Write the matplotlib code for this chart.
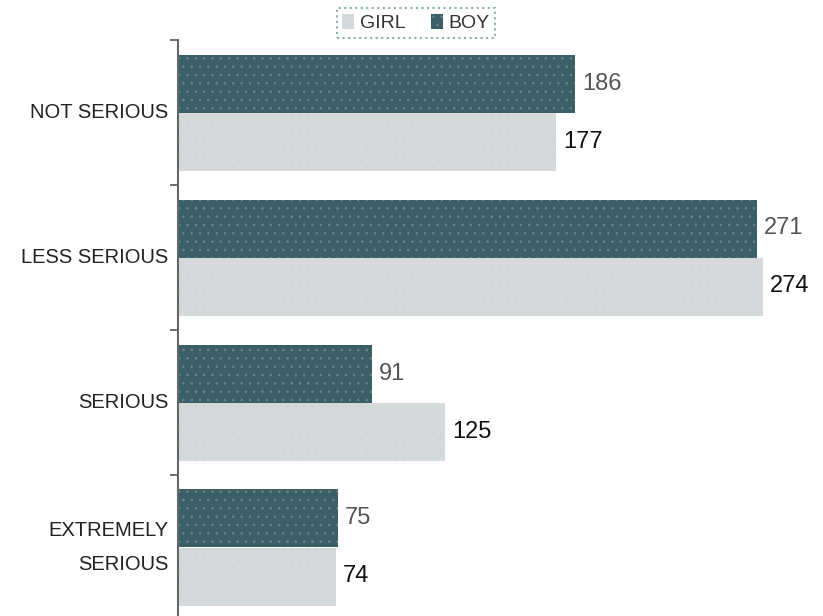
import matplotlib
matplotlib.use("Agg")
import matplotlib.pyplot as plt
import numpy as np
from matplotlib.patches import Patch

categories = ["NOT SERIOUS", "LESS SERIOUS", "SERIOUS", "EXTREMELY\nSERIOUS"]
boy = [186, 271, 91, 75]
girl = [177, 274, 125, 74]

boy_color = "#3b5f66"
girl_color = "#d6d9da"

plt.rcParams["font.family"] = ["Liberation Sans", "DejaVu Sans"]
plt.rcParams["hatch.linewidth"] = 0.6

fig = plt.figure(figsize=(8.23, 6.16), dpi=100)
ax = fig.add_axes([178 / 823, -4 / 616, 645 / 823, 580 / 616])

y = np.arange(len(categories))
h = 0.4
ax.barh(y - h / 2, boy, height=h, color=boy_color, edgecolor="#6f8488",
        hatch="..", linewidth=0)
ax.barh(y + h / 2, girl, height=h, color=girl_color, edgecolor="#c2d8e2",
        hatch="..", linewidth=0)

for yi, v in zip(y, boy):
    ax.text(v + 3.2, yi - h / 2, str(v), va="center", ha="left",
            fontsize=17, color="#555555")
for yi, v in zip(y, girl):
    ax.text(v + 3.2, yi + h / 2, str(v), va="center", ha="left",
            fontsize=17, color="#111111")

ax.set_xlim(0, 302)
ax.set_ylim(3.5, -0.5)
ax.set_yticks(y)
ax.set_yticklabels(categories, fontsize=14.5, color="#222222",
                   linespacing=2.0, va="center")
ax.tick_params(axis="y", which="major", length=0, pad=7)
ax.set_yticks([-0.5, 0.5, 1.5, 2.5], minor=True)
ax.tick_params(axis="y", which="minor", length=6, width=1.2, color="#555555")
ax.set_xticks([])
for s in ["top", "right", "bottom"]:
    ax.spines[s].set_visible(False)
ax.spines["left"].set_color("#666666")
ax.spines["left"].set_linewidth(1.5)

handles = [Patch(facecolor=girl_color, edgecolor="#c2d8e2", hatch="..", linewidth=0),
           Patch(facecolor=boy_color, edgecolor="#6f8488", hatch="..", linewidth=0)]
leg = fig.legend(handles, ["GIRL", "BOY"], loc="center", ncol=2,
                 bbox_to_anchor=(416 / 823, 1 - 23 / 616), fontsize=14,
                 frameon=True, fancybox=False, handlelength=0.6,
                 handleheight=0.85, handletextpad=0.3, columnspacing=1.3,
                 borderpad=0.3, labelcolor="#333333")
leg.get_frame().set_edgecolor("#6f9a9a")
leg.get_frame().set_linestyle(":")
leg.get_frame().set_linewidth(1.5)

fig.savefig("out.png", dpi=100)
